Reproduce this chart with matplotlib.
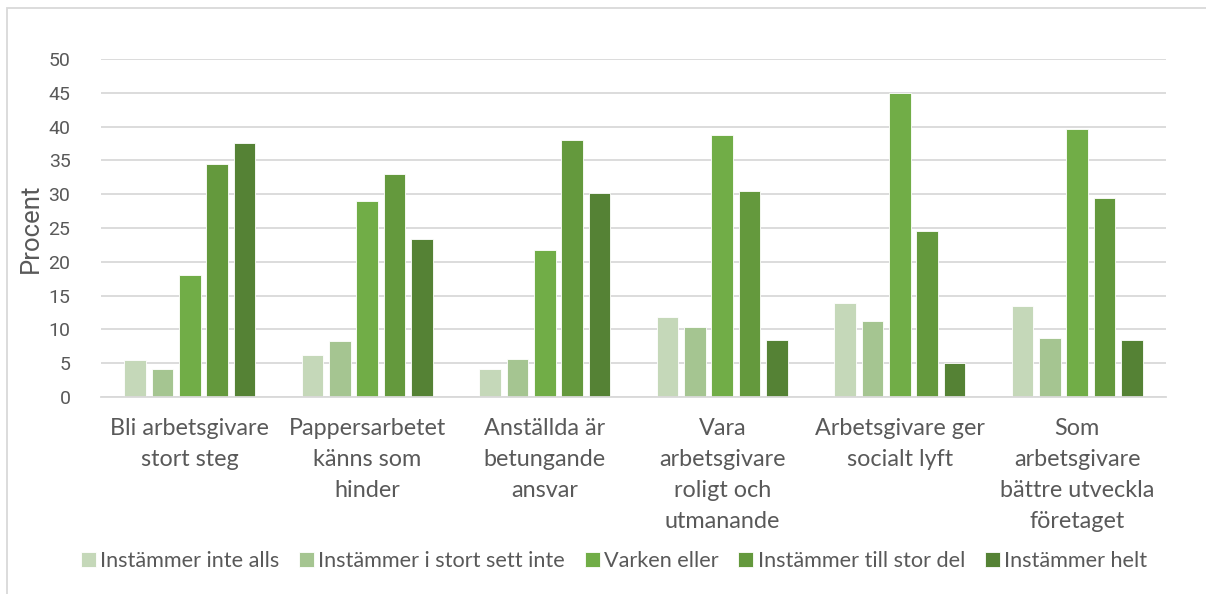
import numpy as np
import matplotlib
matplotlib.use("Agg")
from matplotlib import pyplot as plt
from matplotlib.patches import Rectangle

categories = ["Bli arbetsgivare\nstort steg",
              "Pappersarbetet\nkänns som\nhinder",
              "Anställda är\nbetungande\nansvar",
              "Vara\narbetsgivare\nroligt och\nutmanande",
              "Arbetsgivare ger\nsocialt lyft",
              "Som\narbetsgivare\nbättre utveckla\nföretaget"]
series = ["Instämmer inte alls", "Instämmer i stort sett inte", "Varken eller",
          "Instämmer till stor del", "Instämmer helt"]
inte_alls = [5.5, 6.2, 4.2, 11.9, 13.9, 13.5]
i_stort_inte = [4.1, 8.3, 5.6, 10.3, 11.3, 8.7]
varken = [18.1, 29.0, 21.8, 38.8, 45.0, 39.7]
till_stor_del = [34.4, 33.0, 38.0, 30.5, 24.6, 29.5]
helt = [37.6, 23.4, 30.2, 8.4, 5.0, 8.4]
values = [inte_alls, i_stort_inte, varken, till_stor_del, helt]
colors = ["#C5D8B9", "#A5C591", "#71AD47", "#64993D", "#558235"]

txt = "#595959"
grid = "#D9D9D9"

W, H = 1206, 594
fig = plt.figure(figsize=(W / 100, H / 100), dpi=100)
fig.patches.append(Rectangle((7 / W, -0.1), 1.1, 1 - 8 / H + 0.1, transform=fig.transFigure,
                             fill=False, edgecolor=grid, linewidth=1.3))

ax = fig.add_axes([101 / W, (H - 397) / H, 1065 / W, 338 / H])

x = np.arange(len(categories))
step = 0.154
bw = 0.122
for i, (name, vals) in enumerate(zip(series, values)):
    ax.bar(x + (i - 2) * step, vals, bw, color=colors[i], edgecolor="white",
           linewidth=0.6, label=name, zorder=3)

ax.set_xlim(-0.5, len(categories) - 0.5)
ax.set_ylim(0, 50)
ax.set_yticks(np.arange(0, 51, 5))
ax.yaxis.grid(True, color=grid, linewidth=1.3, zorder=0)
for s in ["top", "right", "left"]:
    ax.spines[s].set_visible(False)
ax.spines["bottom"].set_color(grid)
ax.spines["bottom"].set_linewidth(1.3)
ax.spines["bottom"].set_zorder(4)
ax.tick_params(axis="both", length=0)
ax.tick_params(axis="y", pad=22, labelsize=14, labelcolor=txt)
for lab in ax.get_yticklabels():
    lab.set_family("Roboto")

ax.set_xticks(x)
ax.set_xticklabels(categories, fontsize=16.8, color=txt, family="Lato", linespacing=1.6)
ax.tick_params(axis="x", pad=15)

ax.set_ylabel("Procent", fontsize=18.5, color=txt, family="Roboto", labelpad=4)

leg = fig.legend(loc="center", bbox_to_anchor=(614 / W, 1 - 561 / H), ncol=5,
                 frameon=False, prop={"family": "Lato", "size": 15.6},
                 handlelength=0.7, handleheight=0.7, handletextpad=0.2,
                 columnspacing=0.9, borderpad=0)
for t in leg.get_texts():
    t.set_color(txt)

fig.savefig("out.png", dpi=100)
